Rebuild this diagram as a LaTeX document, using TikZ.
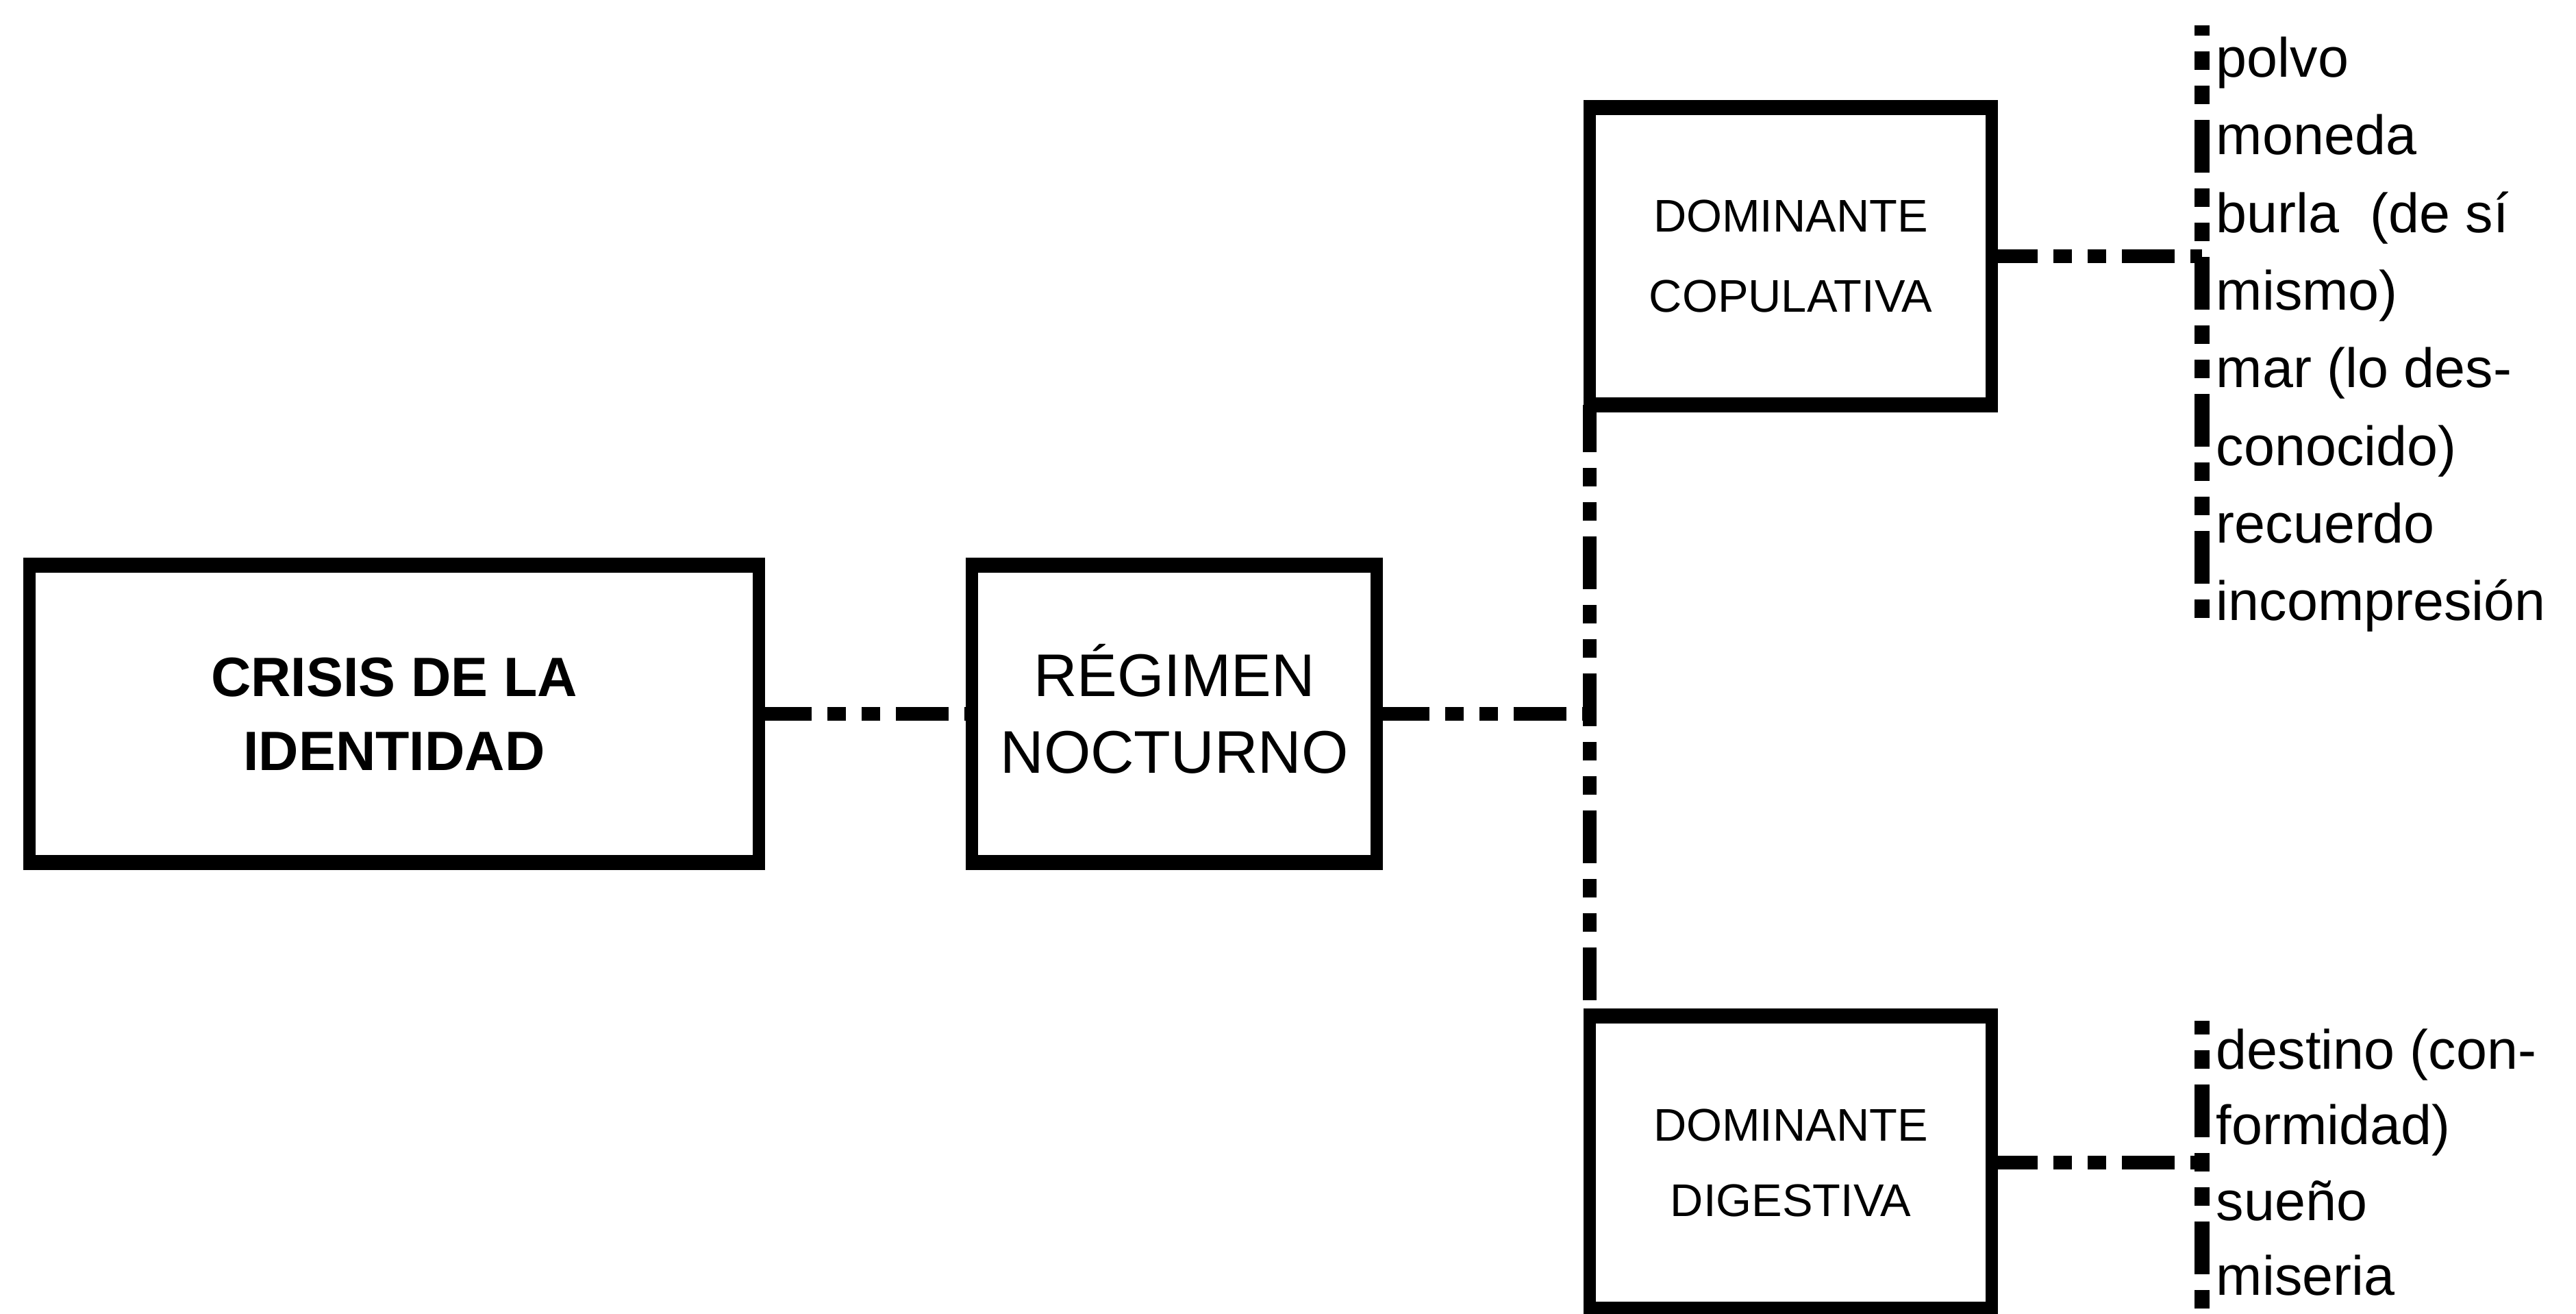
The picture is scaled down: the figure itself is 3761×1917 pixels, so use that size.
\documentclass[tikz,border=0pt]{standalone}
\usepackage{fontspec}
\setmainfont{Liberation Sans}
\begin{document}
\begin{tikzpicture}[x=0.01cm, y=-0.01cm,
  box/.style={draw, line width=0.18cm, outer sep=0pt, inner sep=0pt, align=center, minimum height=4.34cm},
  rim/.style={line width=0.22cm},
  link/.style={line width=0.2cm, dash pattern=on 21.9pt off 6.54pt on 7.68pt off 6.54pt on 7.68pt off 6.54pt},
  rail/.style={line width=0.22cm, dash pattern=on 21.9pt off 6.54pt on 7.68pt off 6.54pt on 7.68pt off 6.54pt},
  item/.style={anchor=base west, inner sep=0pt, font=\fontsize{23pt}{28pt}\selectfont},
]
\useasboundingbox[fill=white] (0,0) rectangle (3761,1917);

% boxes
\node[box, minimum width=10.65cm, font=\bfseries\fontsize{23pt}{30.7pt}\selectfont]
  (crisis) at (575.5,1042) {CRISIS DE LA\\IDENTIDAD};
\node[box, minimum width=5.91cm, font=\fontsize{25pt}{32pt}\selectfont]
  (regimen) at (1714.5,1042) {R\smash{É}GIMEN\\NOCTURNO};
\node[box, minimum width=5.87cm, font=\fontsize{19pt}{33.5pt}\selectfont]
  (copul) at (2614.5,374) {DOMINANTE\\COPULATIVA};
\node[box, minimum width=5.87cm, minimum height=4.28cm, font=\fontsize{19pt}{31.3pt}\selectfont]
  (digest) at (2614.5,1697) {DOMINANTE\\DIGESTIVA};

% heavier top and bottom rules of each box
\foreach \b in {crisis,regimen,copul,digest}{
  \draw[rim] ([xshift=-0.09cm]\b.north west) -- ([xshift=0.09cm]\b.north east);
  \draw[rim] ([xshift=-0.09cm]\b.south west) -- ([xshift=0.09cm]\b.south east);
}

% junction points
\coordinate (joint) at (copul.south west |- regimen.east);
\coordinate (r1top) at (3215,37);
\coordinate (r1bot) at (3215,908);
\coordinate (r1mid) at (r1top |- copul.east);
\coordinate (r2top) at (3215,1490);
\coordinate (r2bot) at (3215,1917);
\coordinate (r2mid) at (r2top |- digest.east);

% dash-dot-dot connectors
\draw[link] (crisis.east) -- (regimen.west);
\draw[link] (regimen.east) -- (joint);
\draw[link, dash phase=2.3pt] (copul.south west) -- (digest.north west);
\draw[link, dash phase=2.8pt] (copul.east) -- (r1mid);
\draw[link, dash phase=2.8pt] (digest.east) -- (r2mid);

% vertical rails beside the lists
\draw[rail, dash phase=17.6pt] (r1top) -- (r1bot);
\draw[rail, dash phase=30.4pt] (r2top) -- (r2bot);

% lists
\node[item] (a1) at (3235,112) {polvo};
\node[item] (a2) at (3235,225) {moneda};
\node[item] (a3) at (3235,339) {burla\ \ (de sí};
\node[item] (a4) at (3235,452) {mismo)};
\node[item] (a5) at (3235,565) {mar (lo des-};
\node[item] (a6) at (3235,679) {conocido)};
\node[item] (a7) at (3235,792) {recuerdo};
\node[item] (a8) at (3235,905) {incompresión};

\node[item] (b1) at (3235,1560) {destino (con-};
\node[item] (b2) at (3235,1670) {formidad)};
\node[item] (b3) at (3235,1781) {sueño};
\node[item] (b4) at (3235,1890) {miseria};
\end{tikzpicture}
\end{document}
